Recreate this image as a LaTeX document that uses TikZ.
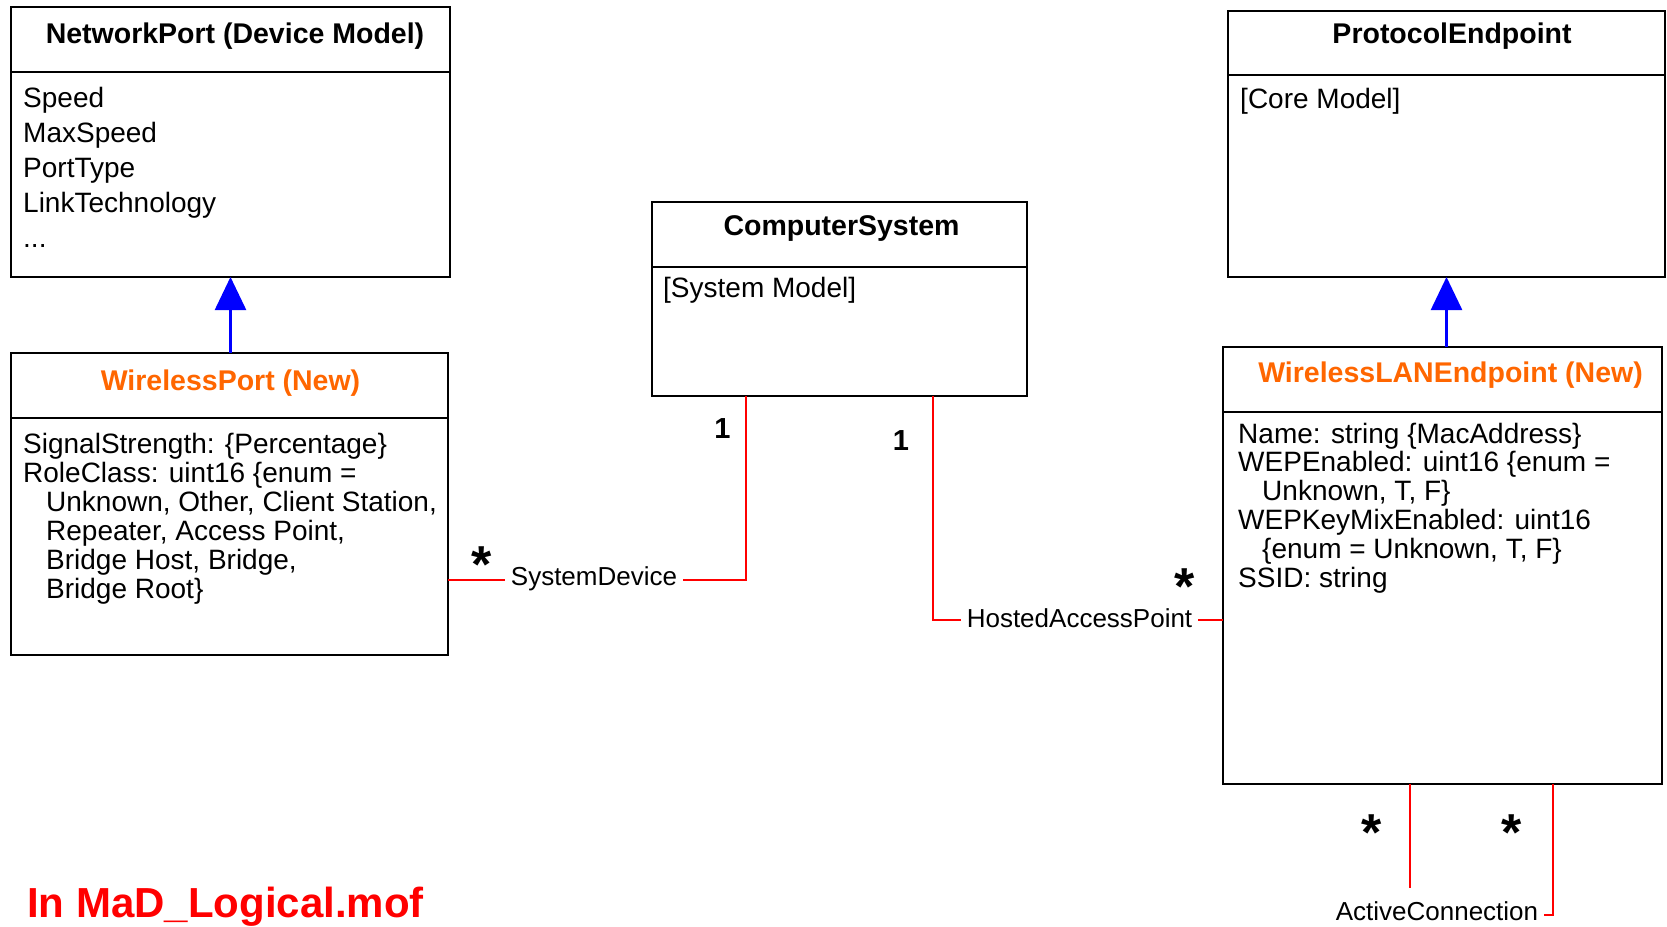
\documentclass[tikz,border=0pt]{standalone}
\usepackage{fontspec}
\setmainfont{Liberation Sans}
\usetikzlibrary{arrows.meta}
\definecolor{newor}{HTML}{FF6600}
\definecolor{assocred}{HTML}{FF0000}
\definecolor{inhblue}{HTML}{0000FF}
\begin{document}
\begin{tikzpicture}[x=1pt,y=-1pt,
  cls/.style={draw=black, line width=2pt, rectangle, anchor=north west, inner sep=0pt, outer sep=0pt},
  sep/.style={draw=black, line width=2pt},
  ttl/.style={font=\fontsize{28.5}{30}\selectfont\bfseries, anchor=base, inner sep=0pt},
  body/.style={font=\fontsize{28}{29}\selectfont, anchor=base west, inner sep=0pt},
  mult/.style={font=\fontsize{29}{30}\selectfont\bfseries, anchor=base, inner sep=0pt},
  star/.style={font=\fontsize{52}{52}\selectfont\bfseries, anchor=base, inner sep=0pt},
  lbl/.style={font=\fontsize{26}{28}\selectfont, anchor=base, inner xsep=6pt, inner ysep=0pt},
  assoc/.style={draw=assocred, line width=2.6pt},
  inherit/.style={draw=inhblue, line width=2.5pt, -{Triangle[width=31pt,length=33pt]}}
]
\useasboundingbox (0,0) rectangle (1667,926);

% ---------- class boxes ----------
\node[cls, minimum width=439pt, minimum height=270pt] (np) at (11,7) {};
\node[cls, minimum width=437pt, minimum height=302pt] (wp) at (11,353) {};
\node[cls, minimum width=375pt, minimum height=194pt] (cs) at (652,202) {};
\node[cls, minimum width=437pt, minimum height=266pt] (pe) at (1228,11) {};
\node[cls, minimum width=439pt, minimum height=437pt] (wl) at (1223,347) {};

% title separators
\draw[sep] (np.west |- 0,72) -- (np.east |- 0,72);
\draw[sep] (wp.west |- 0,418) -- (wp.east |- 0,418);
\draw[sep] (cs.west |- 0,267) -- (cs.east |- 0,267);
\draw[sep] (pe.west |- 0,75) -- (pe.east |- 0,75);
\draw[sep] (wl.west |- 0,412) -- (wl.east |- 0,412);

% ---------- titles ----------
\node[ttl] (npt) at (235,43) {NetworkPort (Device Model)};
\node[ttl, text=newor] (wpt) at (230.5,390) {WirelessPort (New)};
\node[ttl] (cst) at (841.5,235) {ComputerSystem};
\node[ttl] (pet) at (1452,43) {ProtocolEndpoint};
\node[ttl, text=newor] (wlt) at (1450.5,382) {WirelessLANEndpoint (New)};

% ---------- attributes ----------
\node[body, font=\fontsize{28}{35.2}\selectfont] (npa) at (23,107) {\begin{tabular}[t]{@{}l@{}}Speed\\MaxSpeed\\PortType\\LinkTechnology\\...\end{tabular}};
\node[body] (wpa) at (23,453) {\begin{tabular}[t]{@{}l@{}}SignalStrength: \{Percentage\}\\RoleClass: uint16 \{enum =\\\hspace*{23pt}Unknown, Other, Client Station,\\\hspace*{23pt}Repeater, Access Point,\\\hspace*{23pt}Bridge Host, Bridge,\\\hspace*{23pt}Bridge Root\}\end{tabular}};
\node[body] (csa) at (663,297) {[System Model]};
\node[body] (pea) at (1240,108) {[Core Model]};
\node[body, font=\fontsize{28}{28.4}\selectfont] (wla) at (1238,443) {\begin{tabular}[t]{@{}l@{}}Name: string \{MacAddress\}\\WEPEnabled: uint16 \{enum =\\\hspace*{24pt}Unknown, T, F\}\\WEPKeyMixEnabled: uint16\\\hspace*{24pt}\{enum = Unknown, T, F\}\\SSID: string\end{tabular}};

% ---------- inheritance ----------
\draw[inherit] (wp.north -| np.south) -- (np.south);
\draw[inherit] (wl.north -| pe.south) -- (pe.south);

% ---------- SystemDevice ----------
\node[lbl] (sd) at (594,585) {SystemDevice};
\coordinate (cs1) at (746,396);
\draw[assoc] (wp.east |- 0,580) -- (sd.west |- 0,580);
\draw[assoc] (sd.east |- 0,580) -- (cs1 |- 0,580) -- (cs1);
\node[star] (sds) at (482,582) {*};
\node[mult] (sdm) at (722.5,438) {1};

% ---------- HostedAccessPoint ----------
\node[lbl] (hap) at (1079.5,627) {HostedAccessPoint};
\coordinate (cs2) at (933,396);
\draw[assoc] (cs2) -- (cs2 |- 0,620) -- (hap.west |- 0,620);
\draw[assoc] (hap.east |- 0,620) -- (wl.west |- 0,620);
\node[star] (haps) at (1185,604) {*};
\node[mult] (hapm) at (901,450) {1};

% ---------- ActiveConnection ----------
\node[lbl] (ac) at (1437,920) {ActiveConnection};
\coordinate (wl1) at (1410,784);
\coordinate (wl2) at (1553,784);
\draw[assoc] (wl1) -- (wl1 |- 0,888);
\draw[assoc] (wl2) -- (wl2 |- 0,915) -- (ac.east |- 0,915);
\node[star] (acs1) at (1372,850) {*};
\node[star] (acs2) at (1512,850) {*};

% ---------- footer ----------
\node[font=\fontsize{42}{44}\selectfont\bfseries, text=assocred, anchor=base west, inner sep=0pt] (file) at (27,917) {In MaD\_Logical.mof};
\end{tikzpicture}
\end{document}
